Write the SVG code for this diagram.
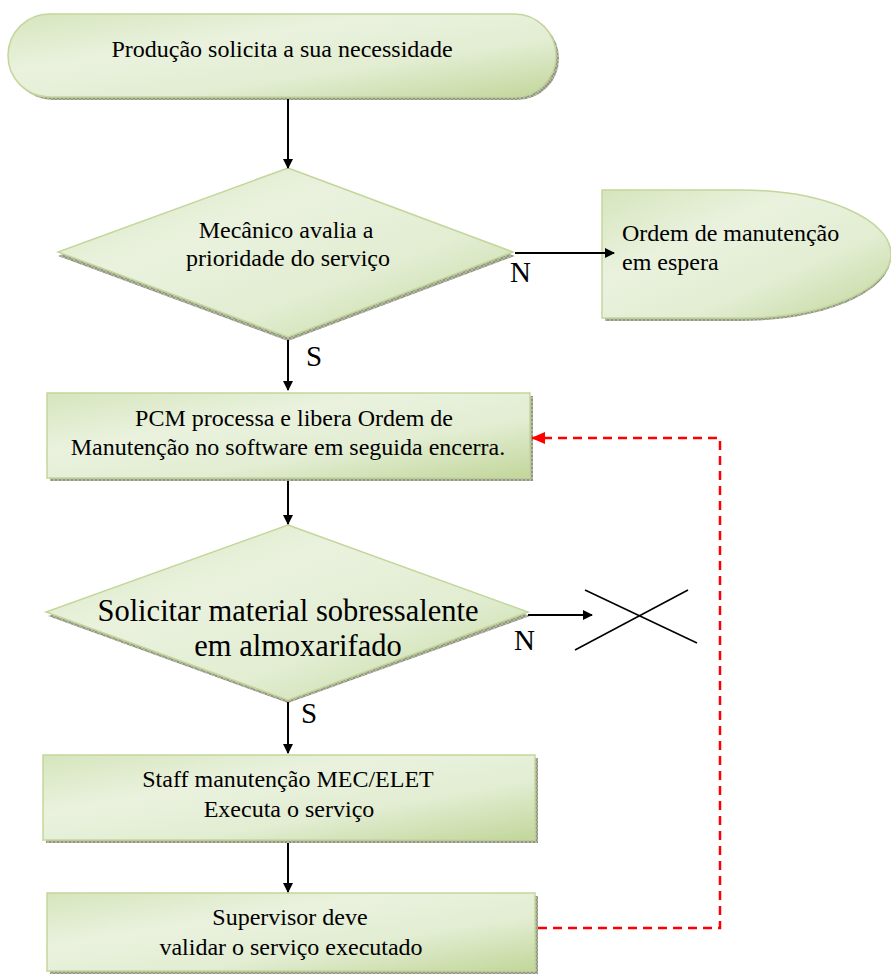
<svg xmlns="http://www.w3.org/2000/svg" width="891" height="974" viewBox="0 0 891 974">
<style>
.t{font-family:"Liberation Serif","Times New Roman","DejaVu Serif",serif;font-size:24px;fill:#000}
.big{font-size:30.5px}
.lbl{font-size:29px}
.shape{fill:url(#g);stroke:#c3d69b;stroke-width:1.5}
.shadow{fill:url(#hatch)}
.con{stroke:#000;stroke-width:2;fill:none}
.red{stroke:#ff0000;stroke-width:2.5;fill:none;stroke-dasharray:9 6}
</style>
<defs>
<linearGradient id="g" x1="0" y1="0" x2="1" y2="1">
<stop offset="0" stop-color="#d6e5bd"/>
<stop offset="0.35" stop-color="#eaf2de"/>
<stop offset="0.65" stop-color="#e2edd2"/>
<stop offset="1" stop-color="#c2d69a"/>
</linearGradient>
<pattern id="hatch" width="4" height="4" patternUnits="userSpaceOnUse">
<rect width="4" height="4" fill="#b5b5a5"/>
<path d="M0,0L4,4M4,0L0,4" stroke="#7d8a6a" stroke-width="0.7"/>
</pattern>
<marker id="ah" markerWidth="10" markerHeight="10" refX="9" refY="5" orient="auto" markerUnits="userSpaceOnUse" viewBox="0 0 10 10">
<path d="M0,0L10,5L0,10Z" fill="#000"/>
</marker>
<marker id="ahr" markerWidth="14" markerHeight="12" refX="13" refY="6" orient="auto" markerUnits="userSpaceOnUse" viewBox="0 0 14 12">
<path d="M0,0L14,6L0,12Z" fill="#ff0000"/>
</marker>
</defs>

<g id="start">
<rect class="shadow" x="11" y="17" width="548" height="83" rx="41.5"/>
<rect class="shape" x="8" y="14" width="548" height="83" rx="41.5"/>
<text class="t" x="282" y="57" text-anchor="middle">Produção solicita a sua necessidade</text>
</g>

<g id="decision1">
<polygon class="shadow" points="288,171 515,256 288,341 58,256"/>
<polygon class="shape" points="288,168 513,252 288,337 58,252"/>
<text class="t" x="286" y="238" text-anchor="middle">Mecânico avalia a</text>
<text class="t" x="288" y="266" text-anchor="middle">prioridade do serviço</text>
</g>

<g id="wait">
<path class="shadow" d="M605,193H740A151,64 0 0 1 740,321H605Z"/>
<path class="shape" d="M602,190H740A151,64 0 0 1 740,318H602Z"/>
<text class="t" x="622" y="241">Ordem de manutenção</text>
<text class="t" x="622" y="270">em espera</text>
</g>

<g id="pcm">
<rect class="shadow" x="50" y="396" width="483" height="85"/>
<rect class="shape" x="47" y="393" width="483" height="85"/>
<text class="t" x="294" y="426" text-anchor="middle">PCM processa e libera Ordem de</text>
<text class="t" x="288" y="455" text-anchor="middle">Manutenção no software em seguida encerra.</text>
</g>

<g id="decision2">
<polygon class="shadow" points="288,528 530,616 288,703 48,616"/>
<polygon class="shape" points="288,525 528,612 288,700 46,612"/>
<text class="t big" x="288" y="621" text-anchor="middle">Solicitar material sobressalente</text>
<text class="t big" x="298" y="656" text-anchor="middle">em almoxarifado</text>
</g>

<g id="end-x">
<line x1="585" y1="590" x2="697" y2="643" stroke="#000" stroke-width="1.5"/>
<line x1="575" y1="650" x2="688" y2="590" stroke="#000" stroke-width="1.5"/>
</g>

<g id="staff">
<rect class="shadow" x="46" y="758" width="492" height="85"/>
<rect class="shape" x="43" y="755" width="492" height="85"/>
<text class="t" x="288" y="787" text-anchor="middle">Staff manutenção MEC/ELET</text>
<text class="t" x="289" y="817" text-anchor="middle">Executa o serviço</text>
</g>

<g id="supervisor">
<rect class="shadow" x="50" y="896" width="488" height="78"/>
<rect class="shape" x="47" y="893" width="488" height="78"/>
<text class="t" x="290" y="925" text-anchor="middle">Supervisor deve</text>
<text class="t" x="291" y="955" text-anchor="middle">validar o serviço executado</text>
</g>

<g id="connectors">
<line class="con" x1="288" y1="99" x2="288" y2="168" marker-end="url(#ah)"/>
<line class="con" x1="515" y1="253" x2="614" y2="253" marker-end="url(#ah)"/>
<line class="con" x1="288" y1="340" x2="288" y2="390" marker-end="url(#ah)"/>
<line class="con" x1="288" y1="481" x2="288" y2="524" marker-end="url(#ah)"/>
<line class="con" x1="528" y1="615" x2="592" y2="615" marker-end="url(#ah)"/>
<line class="con" x1="288" y1="702" x2="288" y2="753" marker-end="url(#ah)"/>
<line class="con" x1="288" y1="843" x2="288" y2="892" marker-end="url(#ah)"/>
<polyline class="red" points="538,928 720,928 720,438 532,438" marker-end="url(#ahr)"/>
<text class="t lbl" x="510" y="282">N</text>
<text class="t lbl" x="306" y="366">S</text>
<text class="t lbl" x="514" y="650">N</text>
<text class="t lbl" x="301" y="723">S</text>
</g>
</svg>
